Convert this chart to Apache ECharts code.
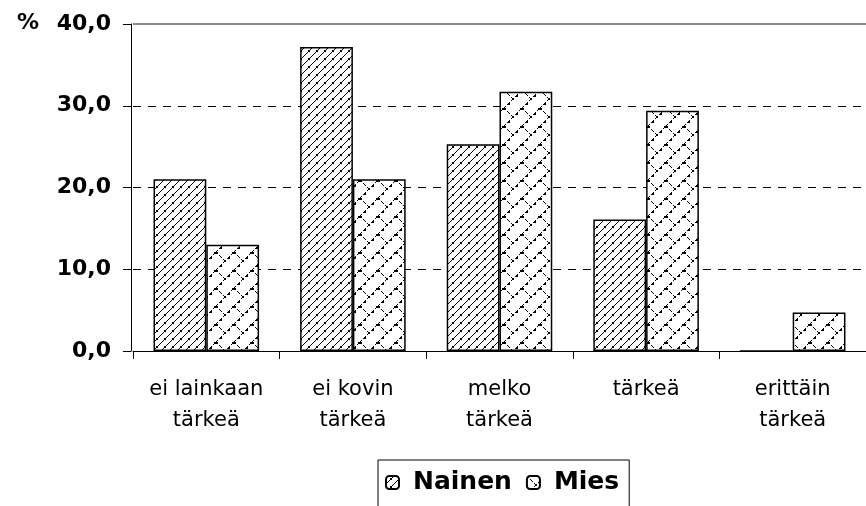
<!DOCTYPE html>
<html>
<head>
<meta charset="utf-8">
<script src="https://cdn.jsdelivr.net/npm/echarts@6/dist/echarts.min.js"></script>
<style>
html,body{margin:0;padding:0;background:#fff;}
#chart{width:866px;height:506px;}
</style>
</head>
<body>
<div id="chart"></div>
<script>
const categories = ['ei lainkaan\ntärkeä', 'ei kovin\ntärkeä', 'melko\ntärkeä', 'tärkeä', 'erittäin\ntärkeä'];
const nainen = [21.0, 37.2, 25.3, 16.1, 0];
const mies = [13.0, 21.0, 31.7, 29.4, 4.7];
const yTicks = [0, 10, 20, 30, 40];
const yTickLabels = ['0,0', '10,0', '20,0', '30,0', '40,0'];
const seriesNames = ['Nainen', 'Mies'];

function px(ctx, x, y, w, h) { ctx.fillRect(x, y, w || 1, h || 1); }

function hatchPattern() {
  const s = 8;
  const c = document.createElement('canvas');
  c.width = s; c.height = s;
  const ctx = c.getContext('2d');
  ctx.fillStyle = '#fff'; ctx.fillRect(0, 0, s, s);
  ctx.fillStyle = '#000';
  for (let i = 0; i < s; i++) px(ctx, i, s - 1 - i);
  px(ctx, 4, 2, 1, 1);
  px(ctx, 5, 3, 1, 1);
  return c;
}

function shinglePattern() {
  const s = 18;
  const c = document.createElement('canvas');
  c.width = s; c.height = s;
  const ctx = c.getContext('2d');
  ctx.fillStyle = '#fff'; ctx.fillRect(0, 0, s, s);
  ctx.fillStyle = '#000';
  for (let i = 0; i < s; i++) { if (i % 4 !== 2) px(ctx, i, s - 1 - i); }
  for (let i = 0; i < 9; i++) { if (i % 4 !== 2) px(ctx, i, i); }
  px(ctx, 8, 8, 2, 2);
  px(ctx, 0, 0, 2, 2);
  px(ctx, 16, 0, 2, 2);
  px(ctx, 4, 13, 2, 2);
  px(ctx, 12, 5, 2, 2);
  return c;
}

const chart = echarts.init(document.getElementById('chart'), null, { renderer: 'canvas' });
const FONT = 'DejaVu Sans';

chart.setOption({
  backgroundColor: '#fff',
  animation: false,
  title: {
    text: '%', left: 12, top: 7,
    textStyle: { fontFamily: FONT, fontWeight: 'bold', fontSize: 22, color: '#000' }
  },
  grid: { left: 133, top: 24, width: 741.5, height: 327 },
  legend: {
    data: seriesNames,
    left: 378, top: 460,
    padding: [10, 10, 24, 7],
    itemGap: 14,
    itemWidth: 13, itemHeight: 13,
    backgroundColor: '#fff',
    borderColor: '#000', borderWidth: 1,
    textStyle: { fontFamily: FONT, fontWeight: 'bold', fontSize: 25, color: '#000', padding: [0, 0, 0, 9] }
  },
  xAxis: {
    type: 'category',
    data: categories,
    axisLine: { lineStyle: { color: '#000', width: 1 } },
    axisTick: { show: true, length: 8, lineStyle: { color: '#000' } },
    axisLabel: { fontFamily: FONT, fontSize: 21, color: '#000', lineHeight: 31, margin: 23, interval: 0 }
  },
  yAxis: {
    type: 'value', min: 0, max: 40, interval: 10,
    offset: 2,
    axisLine: { show: true, lineStyle: { color: '#000', width: 1 } },
    axisTick: { show: true, length: 8, lineStyle: { color: '#000' } },
    axisLabel: {
      fontFamily: FONT, fontWeight: 'bold', fontSize: 22, color: '#000', margin: 20,
      formatter: v => yTickLabels[yTicks.indexOf(v)]
    },
    splitLine: { show: true, lineStyle: { color: '#000', type: [8, 7], width: 1 } }
  },
  series: [
    {
      name: seriesNames[0], type: 'bar', data: nainen,
      barGap: '0%', barCategoryGap: '28%',
      itemStyle: { color: { image: hatchPattern(), repeat: 'repeat' }, borderColor: '#000', borderWidth: 1.5 },
      markLine: {
        silent: true, symbol: 'none', label: { show: false },
        lineStyle: { color: '#8c8c8c', type: 'solid', width: 2 },
        data: [{ yAxis: 40 }]
      }
    },
    {
      name: seriesNames[1], type: 'bar', data: mies,
      barGap: '0%', barCategoryGap: '28%',
      itemStyle: { color: { image: shinglePattern(), repeat: 'repeat' }, borderColor: '#000', borderWidth: 1.5 }
    }
  ]
});
</script>
</body>
</html>
